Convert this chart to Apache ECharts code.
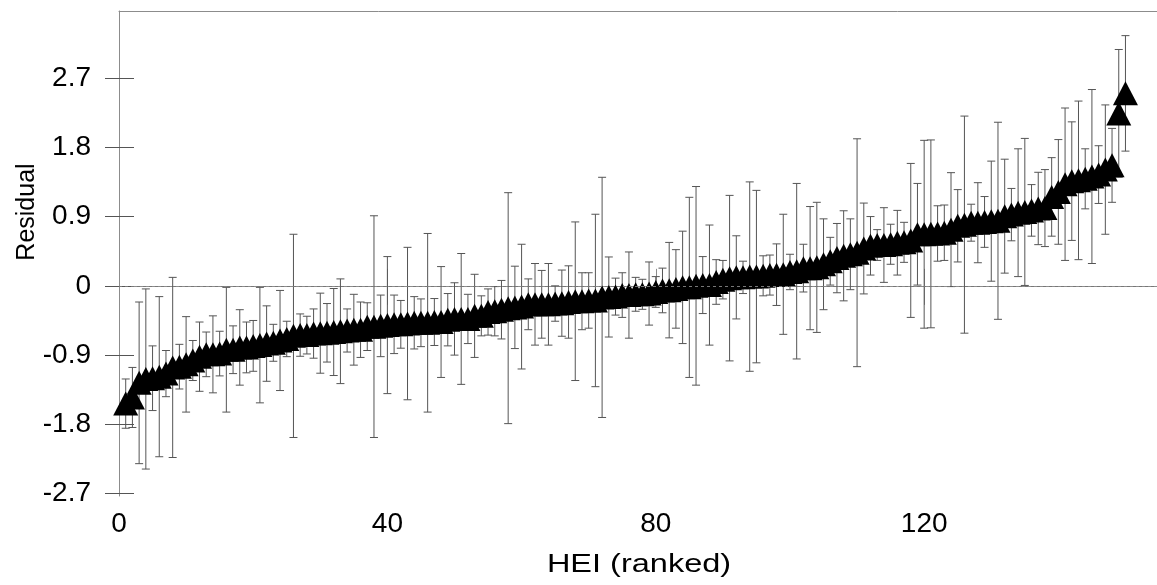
<!DOCTYPE html>
<html>
<head>
<meta charset="utf-8">
<title>Residual by HEI (ranked)</title>
<script src="https://cdn.jsdelivr.net/npm/echarts@6/dist/echarts.min.js"></script>
<style>
  html, body { margin: 0; padding: 0; background: #fff; }
  #chart { width: 1157px; height: 585px; }
</style>
</head>
<body>
<div id="chart"></div>
<script>
// residual of each HEI, already sorted (rank 1..150)
var residual = [
  -1.53, -1.45, -1.26, -1.21, -1.20, -1.18, -1.14, -1.06, -1.05, -1.02,
  -0.97, -0.92, -0.89, -0.89, -0.88, -0.83, -0.83, -0.80, -0.80, -0.78,
  -0.77, -0.75, -0.74, -0.71, -0.69, -0.65, -0.64, -0.64, -0.62, -0.615,
  -0.61, -0.60, -0.59, -0.58, -0.57, -0.57, -0.53, -0.53, -0.52, -0.51,
  -0.50, -0.50, -0.49, -0.48, -0.48, -0.48, -0.47, -0.47, -0.44, -0.43,
  -0.43, -0.43, -0.39, -0.39, -0.34, -0.33, -0.31, -0.29, -0.28, -0.27,
  -0.24, -0.24, -0.24, -0.24, -0.23, -0.225, -0.21, -0.20, -0.20, -0.19,
  -0.19, -0.15, -0.145, -0.14, -0.12, -0.12, -0.11, -0.11, -0.10, -0.08,
  -0.06, -0.056, -0.04, -0.02, -0.02, 0.00, 0.01, 0.01, 0.05, 0.08,
  0.10, 0.11, 0.11, 0.12, 0.12, 0.13, 0.14, 0.145, 0.15, 0.18,
  0.19, 0.23, 0.23, 0.24, 0.28, 0.32, 0.36, 0.39, 0.41, 0.43,
  0.485, 0.52, 0.53, 0.53, 0.54, 0.56, 0.565, 0.59, 0.67, 0.67,
  0.675, 0.68, 0.69, 0.73, 0.78, 0.795, 0.82, 0.82, 0.83, 0.84,
  0.845, 0.905, 0.925, 0.95, 0.96, 0.98, 1.005, 1.01, 1.155, 1.22,
  1.32, 1.36, 1.37, 1.39, 1.42, 1.445, 1.51, 1.565, 2.24, 2.50
];

// half width of the interval around each residual
var ciHalf = [
  0.32, 0.39, 1.05, 1.17, 0.42, 1.04, 0.30, 1.17, 0.29, 0.62,
  0.26, 0.45, 0.29, 0.50, 0.29, 0.81, 0.31, 0.49, 0.33, 0.33,
  0.75, 0.49, 0.24, 0.65, 0.23, 1.32, 0.275, 0.245, 0.32, 0.52,
  0.38, 0.565, 0.68, 0.28, 0.46, 0.36, 0.31, 1.44, 0.40, 0.89,
  0.38, 0.31, 0.99, 0.34, 0.31, 1.16, 0.305, 0.72, 0.34, 0.47,
  0.85, 0.32, 0.54, 0.26, 0.30, 0.32, 0.38, 1.50, 0.535, 0.81,
  0.33, 0.53, 0.44, 0.53, 0.23, 0.43, 0.47, 1.03, 0.37, 0.36,
  1.12, 1.56, 0.52, 0.24, 0.29, 0.56, 0.22, 0.195, 0.41, 0.20,
  0.29, 0.62, 0.51, 0.73, 1.17, 1.29, 0.37, 0.78, 0.29, 0.25,
  1.075, 0.54, 0.21, 1.23, 1.12, 0.26, 0.26, 0.40, 0.78, 0.23,
  1.14, 0.31, 0.80, 0.845, 0.59, 0.31, 0.45, 0.585, 0.46, 1.48,
  0.59, 0.38, 0.20, 0.485, 0.26, 0.42, 0.26, 1.00, 0.66, 1.22,
  1.22, 0.36, 0.36, 0.74, 0.47, 1.41, 0.24, 0.52, 0.33, 0.78,
  1.28, 0.74, 0.34, 0.83, 0.955, 0.335, 0.47, 0.50, 0.51, 0.68,
  0.99, 0.77, 1.03, 0.39, 1.13, 0.375, 0.84, 0.48, 0.83, 0.75
];

var xTicks = [0, 40, 80, 120];
var yTicks = [-2.7, -1.8, -0.9, 0, 0.9, 1.8, 2.7];
var yTickLabels = ['-2.7', '-1.8', '-0.9', '0', '0.9', '1.8', '2.7'];
var xName = 'HEI (ranked)';
var yName = 'Residual';

// points and interval rows, rank starts at 1
var points = [];
var bars = [];
residual.forEach(function(v, i) {
  points.push([i + 1, v]);
  bars.push([i + 1, v - ciHalf[i], v + ciHalf[i]]);
});

var font = '"Liberation Sans", Arial, sans-serif';
var axisGray = '#8c8c8c';
var tickGray = '#555';

function renderErrorBar(params, api) {
  var x = api.value(0);
  var top = api.coord([x, api.value(2)]);
  var bot = api.coord([x, api.value(1)]);
  var cap = 4;
  var st = { stroke: '#555', lineWidth: 1 };
  return {
    type: 'group',
    children: [
      { type: 'line', shape: { x1: top[0], y1: top[1], x2: bot[0], y2: bot[1] }, style: st },
      { type: 'line', shape: { x1: top[0] - cap, y1: top[1], x2: top[0] + cap, y2: top[1] }, style: st },
      { type: 'line', shape: { x1: bot[0] - cap, y1: bot[1], x2: bot[0] + cap, y2: bot[1] }, style: st }
    ]
  };
}

var myChart = echarts.init(document.getElementById('chart'), null, { renderer: 'canvas' });

var option = {
  animation: false,
  backgroundColor: '#fff',
  grid: { left: 119, right: 0, top: 11, bottom: 89 },
  // axis titles placed by hand, the x one is a little stretched sideways
  graphic: [{
    type: 'text',
    x: 639,
    y: 565,
    scaleX: 1.3,
    style: { text: xName, font: '25px ' + font, fill: '#000', align: 'center', verticalAlign: 'middle' }
  }, {
    type: 'text',
    x: 27,
    y: 212,
    rotation: Math.PI / 2,
    style: { text: yName, font: '25px ' + font, fill: '#000', align: 'center', verticalAlign: 'middle' }
  }],
  xAxis: [{
    // bottom axis with ticks going down
    type: 'value',
    position: 'bottom',
    min: 0,
    max: 154.7,
    axisLine: { show: true, lineStyle: { color: axisGray, width: 1 } },
    axisTick: { show: true, inside: false, length: 19, customValues: xTicks, lineStyle: { color: axisGray } },
    axisLabel: { customValues: xTicks, fontFamily: font, fontSize: 28, color: '#000', margin: 14 },
    splitLine: { show: false }
  }, {
    // same axis, ticks going up into the plot
    type: 'value',
    position: 'bottom',
    min: 0,
    max: 154.7,
    axisLine: { show: false },
    axisTick: { show: true, inside: true, length: 17, customValues: xTicks, lineStyle: { color: axisGray } },
    axisLabel: { show: false },
    splitLine: { show: false }
  }, {
    // top border
    type: 'value',
    position: 'top',
    min: 0,
    max: 154.7,
    axisLine: { show: true, lineStyle: { color: axisGray, width: 1 } },
    axisTick: { show: false },
    axisLabel: { show: false },
    splitLine: { show: false }
  }],
  yAxis: [{
    type: 'value',
    position: 'left',
    min: -2.73,
    max: 3.57,
    axisLine: { show: true, lineStyle: { color: axisGray, width: 1 } },
    axisTick: { show: true, inside: false, length: 14, customValues: yTicks, lineStyle: { color: tickGray } },
    axisLabel: {
      customValues: yTicks,
      fontFamily: font,
      fontSize: 28,
      color: '#000',
      margin: 28,
      formatter: function(v) {
        var k = yTicks.indexOf(Math.round(v * 10) / 10);
        return k >= 0 ? yTickLabels[k] : '';
      }
    },
    splitLine: { show: false }
  }, {
    type: 'value',
    position: 'left',
    min: -2.73,
    max: 3.57,
    axisLine: { show: false },
    axisTick: { show: true, inside: true, length: 15, customValues: yTicks, lineStyle: { color: tickGray } },
    axisLabel: { show: false },
    splitLine: { show: false }
  }],
  series: [{
    name: 'interval',
    type: 'custom',
    xAxisIndex: 0,
    yAxisIndex: 0,
    renderItem: renderErrorBar,
    encode: { x: 0, y: [1, 2] },
    data: bars,
    silent: true,
    z: 2,
    markLine: {
      silent: true,
      symbol: 'none',
      label: { show: false },
      lineStyle: { color: '#777', type: [3, 3], width: 1 },
      data: [{ yAxis: 0 }]
    }
  }, {
    name: 'residual',
    type: 'scatter',
    xAxisIndex: 0,
    yAxisIndex: 0,
    symbol: 'triangle',
    symbolSize: [25, 24],
    itemStyle: { color: '#000', opacity: 1 },
    data: points,
    z: 3
  }]
};

myChart.setOption(option);
</script>
</body>
</html>
